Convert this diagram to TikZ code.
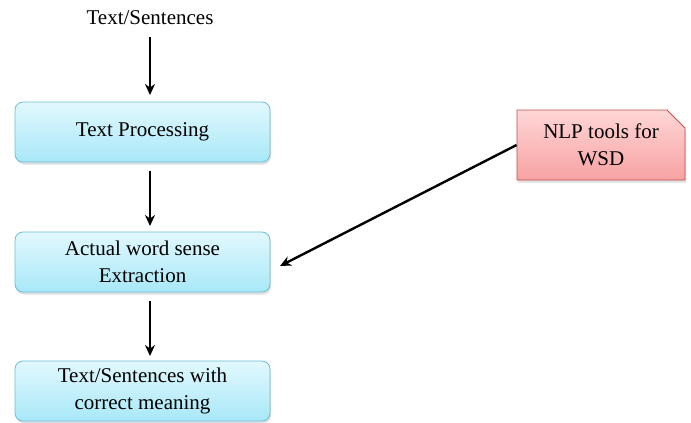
\documentclass[tikz,border=0pt]{standalone}
\usepackage{fontspec}
\setmainfont{Liberation Serif}
\usetikzlibrary{arrows.meta,shapes.misc,shadows}
\definecolor{boxtop}{HTML}{E2F8FE}
\definecolor{boxbot}{HTML}{A8E8F8}
\definecolor{boxedge}{HTML}{6CBFD8}
\definecolor{pinktop}{HTML}{FFD6D6}
\definecolor{pinkbot}{HTML}{F7A2A2}
\definecolor{pinkedge}{HTML}{C0504D}
\tikzset{
  txt/.style={font=\fontsize{21}{27}\selectfont},
  stepbox/.style={txt, draw=boxedge, line width=0.8pt, rounded corners=8pt,
    top color=boxtop, bottom color=boxbot, minimum width=255pt, minimum height=60pt,
    align=center, inner sep=2pt,
    drop shadow={opacity=0.25, shadow xshift=1pt, shadow yshift=-2.5pt}},
  toolbox/.style={txt, chamfered rectangle, chamfered rectangle corners=north east,
    chamfered rectangle xsep=9pt, chamfered rectangle ysep=9pt,
    draw=pinkedge, line width=0.8pt, top color=pinktop, bottom color=pinkbot,
    minimum width=168pt, minimum height=70pt, align=center, inner sep=2pt,
    drop shadow={opacity=0.25, shadow xshift=1pt, shadow yshift=-2.5pt}},
  flow/.style={-{Stealth[length=11pt,width=10pt]}, line width=2.4pt, black}
}
\begin{document}
\begin{tikzpicture}[x=1pt,y=-1pt]
\useasboundingbox (0,0) rectangle (691,423);
\node[txt] (in) at (150,18) {Text/Sentences};
\node[stepbox] (tp) at (142.5,132) {Text Processing};
\node[stepbox] (ws) at (142.5,262) {Actual word sense\\Extraction};
\node[stepbox] (out) at (142.5,391) {Text/Sentences with\\correct meaning};
\node[toolbox] (nlp) at (601,145) {NLP tools for\\WSD};
\coordinate (a1s) at (150,37);
\coordinate (a1e) at (150,95);
\coordinate (a2s) at (150,171);
\coordinate (a2e) at (150,226);
\coordinate (a3s) at (150,301);
\coordinate (a3e) at (150,356);
\coordinate (a4e) at (280,266);
\draw[flow] (a1s) -- (a1e);
\draw[flow] (a2s) -- (a2e);
\draw[flow] (a3s) -- (a3e);
\draw[flow] (nlp.west) -- (a4e);
\end{tikzpicture}
\end{document}
